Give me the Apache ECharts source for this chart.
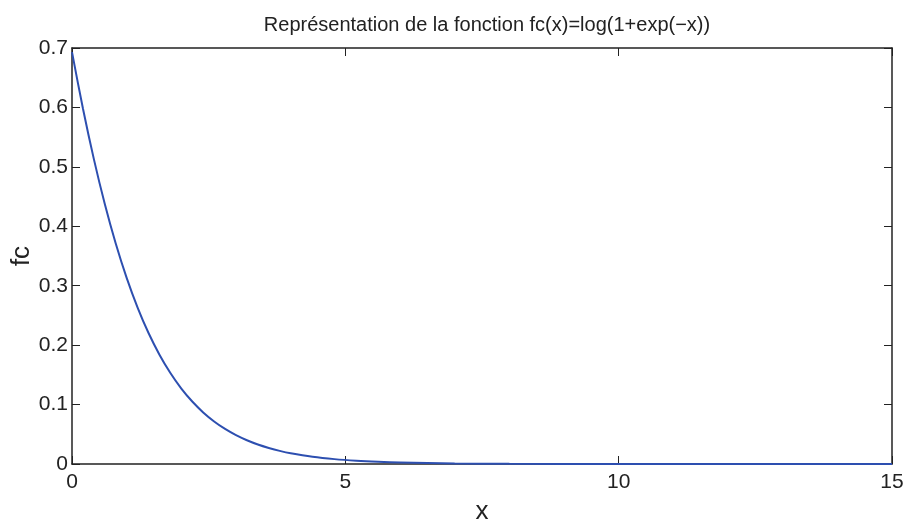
<!DOCTYPE html>
<html>
<head>
<meta charset="utf-8">
<script src="https://cdn.jsdelivr.net/npm/echarts@6/dist/echarts.min.js"></script>
<style>html,body{margin:0;padding:0;background:#fff;}#c{width:905px;height:519px;}</style>
</head>
<body>
<div id="c"></div>
<script>
var xValues = [0, 0.2, 0.4, 0.6, 0.8, 1.0, 1.2, 1.4, 1.6, 1.8, 2.0, 2.2, 2.4, 2.6, 2.8, 3.0, 3.2, 3.4, 3.6, 3.8, 4.0, 4.4, 4.8, 5.2, 5.6, 6, 7, 8, 10, 12, 15];
var fcValues = [0.6931, 0.5981, 0.5130, 0.4375, 0.3711, 0.3133, 0.2633, 0.2204, 0.1839, 0.1530, 0.1269, 0.1051, 0.0868, 0.0716, 0.0590, 0.0486, 0.0400, 0.0328, 0.0270, 0.0221, 0.0181, 0.0122, 0.0082, 0.0055, 0.0037, 0.0025, 0.0009, 0.0003, 0.0000, 0.0000, 0.0000];
var titleText = 'Représentation de la fonction fc(x)=log(1+exp(\u2212x))';
var xName = 'x';
var yName = 'fc';

var pts = xValues.map(function (x, i) { return [x, fcValues[i]]; });
var font = '"Liberation Sans", Arial, Helvetica, sans-serif';
var axisCol = '#222222';
var textCol = '#222222';

var chart = echarts.init(document.getElementById('c'), null, { renderer: 'canvas' });
chart.setOption({
  animation: false,
  backgroundColor: '#ffffff',
  title: {
    text: titleText,
    left: 482, top: 10, textAlign: 'center',
    textStyle: { fontFamily: font, fontSize: 20, fontWeight: 'normal', color: textCol }
  },
  grid: { left: 72, right: 13, top: 48, bottom: 55, containLabel: false, outerBoundsMode: 'none' },
  xAxis: [{
    type: 'value', min: 0, max: 15, interval: 5, position: 'bottom',
    name: xName, nameLocation: 'middle', nameGap: 35, nameMoveOverlap: false,
    nameTextStyle: { fontFamily: font, fontSize: 26, color: textCol },
    axisLine: { show: true, onZero: false, lineStyle: { color: axisCol, width: 1.5 } },
    axisTick: { show: true, inside: true, length: 8, lineStyle: { color: axisCol } },
    axisLabel: { fontFamily: font, fontSize: 21, color: textCol, margin: 8 },
    splitLine: { show: false }
  }, {
    type: 'value', min: 0, max: 15, interval: 5, position: 'top',
    axisLine: { show: true, onZero: false, lineStyle: { color: axisCol, width: 1.5 } },
    axisTick: { show: true, inside: true, length: 8, lineStyle: { color: axisCol } },
    axisLabel: { show: false },
    splitLine: { show: false }
  }],
  yAxis: [{
    type: 'value', min: 0, max: 0.7, interval: 0.1, position: 'left',
    name: yName, nameLocation: 'middle', nameGap: 37, nameMoveOverlap: false,
    nameTextStyle: { fontFamily: font, fontSize: 26, color: textCol },
    axisLine: { show: true, onZero: false, lineStyle: { color: axisCol, width: 1.5 } },
    axisTick: { show: true, inside: true, length: 8, lineStyle: { color: axisCol } },
    axisLabel: { fontFamily: font, fontSize: 21, color: textCol, margin: 4 },
    splitLine: { show: false }
  }, {
    type: 'value', min: 0, max: 0.7, interval: 0.1, position: 'right',
    axisLine: { show: true, onZero: false, lineStyle: { color: axisCol, width: 1.5 } },
    axisTick: { show: true, inside: true, length: 8, lineStyle: { color: axisCol } },
    axisLabel: { show: false },
    splitLine: { show: false }
  }],
  series: [{
    type: 'line', xAxisIndex: 0, yAxisIndex: 0,
    data: pts, showSymbol: false, smooth: 0.3,
    lineStyle: { color: '#2d4fb0', width: 2 },
    z: 1
  }]
});
</script>
</body>
</html>
